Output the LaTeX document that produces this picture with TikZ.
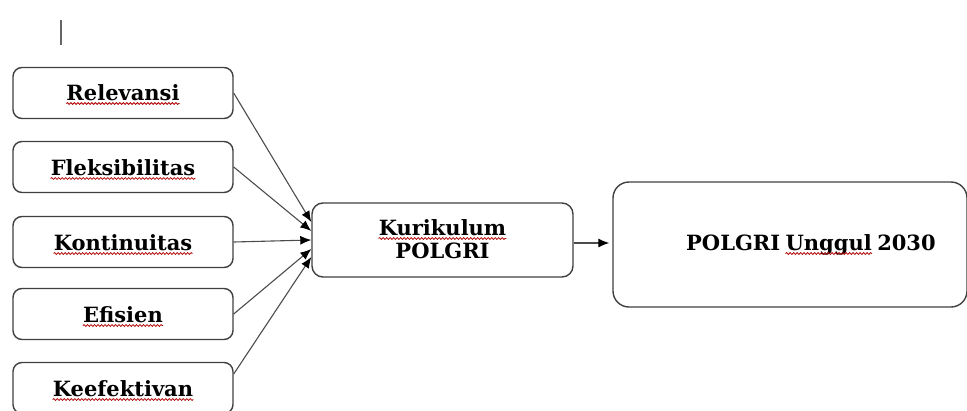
\documentclass[tikz,border=0pt]{standalone}
\usepackage{fontspec}
\setmainfont{DejaVu Serif}
\usetikzlibrary{arrows.meta,decorations.pathmorphing}

\begin{document}
\begin{tikzpicture}[x=1pt,y=-1pt,
    kotak/.style={draw=black!75,line width=1.4pt,rounded corners=9pt},
    faktor/.style={kotak,minimum width=220pt,minimum height=51pt},
    kata/.style={inner sep=0pt,anchor=base,font=\fontsize{21}{24}\selectfont\bfseries},
    gelombang/.style={red!70!black,line width=0.8pt,decorate,decoration={snake,amplitude=0.9pt,segment length=3.5pt}},
    panah/.style={draw=black!70,line width=1.1pt,-{Latex[length=11pt,width=9pt,color=black]}}]
    \useasboundingbox (0,0) rectangle (967,410);
    % tanda kursor
    \draw[black!60,line width=1.2pt] (61,20) -- (61,45);
    % faktor kurikulum
    \node[faktor] (rel) at (123,93) {};
    \node[faktor] (fle) at (123,167) {};
    \node[faktor] (kon) at (123,242) {};
    \node[faktor] (efi) at (123,314) {};
    \node[faktor] (kef) at (123,388) {};
    \node[kata] (relk) at (123,100) {Relevansi};
    \node[kata] (flek) at (123,175) {Fleksibilitas};
    \node[kata] (konk) at (123,250) {Kontinuitas};
    \node[kata] (efik) at (123,322) {Efisien};
    \node[kata] (kefk) at (123,396) {Keefektivan};
    % kurikulum dan tujuan
    \node[kotak,rounded corners=11pt,minimum width=261pt,minimum height=74pt] (kur) at (442.5,240) {};
    \node[kata] (kurk) at (442.5,235) {Kurikulum};
    \node[kata] (polk) at (442.5,258) {POLGRI};
    \node[kotak,rounded corners=16pt,minimum width=354pt,minimum height=125pt] (ung) at (790,244.5) {};
    \node[kata,anchor=base west] (pol2) at (686,250) {POLGRI};
    \node[kata,anchor=base west] (ungk) at ([xshift=5pt]pol2.base east) {Unggul};
    \node[kata,anchor=base west] (thn) at ([xshift=5pt]ungk.base east) {2030};
    % garis ejaan
    \foreach \k in {relk,flek,konk,efik,kefk,kurk,ungk}
        \draw[gelombang] ([yshift=-3.5pt]\k.base west) -- ([yshift=-3.5pt]\k.base east);
    % panah ke kurikulum
    \draw[panah] (rel.east) -- ([yshift=18pt]kur.west);
    \draw[panah] (fle.east) -- ([yshift=9pt]kur.west);
    \draw[panah] (kon.east) -- (kur.west);
    \draw[panah] (efi.east) -- ([yshift=-9pt]kur.west);
    \draw[panah] ([yshift=14pt]kef.east) -- ([yshift=-17pt]kur.west);
    \draw[panah] ([yshift=-3pt]kur.east) -- ([xshift=-3pt,yshift=-3pt]ung.west |- kur.east);
\end{tikzpicture}
\end{document}
